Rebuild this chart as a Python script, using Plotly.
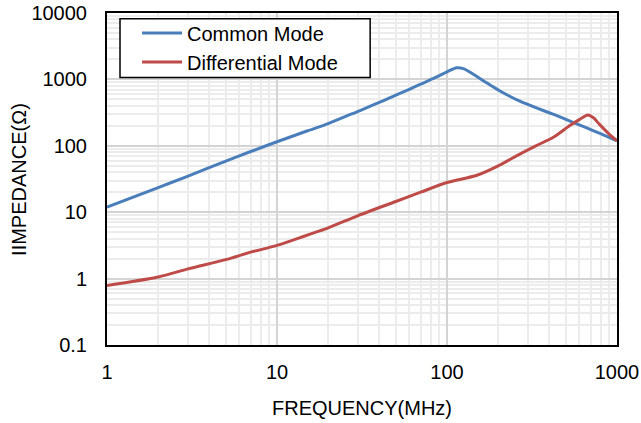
import plotly.graph_objects as go

# Data
freq_cm = [1, 2, 3, 5, 7, 10, 15, 20, 30, 40, 50, 60, 70, 85, 100, 114, 125, 136, 171, 205, 268, 352, 420, 500, 658, 800, 1000]
z_cm = [11.9, 23.5, 35, 59, 82, 115, 167, 216, 331, 450, 580, 710, 850, 1060, 1300, 1500, 1450, 1290, 890, 670, 470, 355, 300, 250, 188, 152, 119]

freq_dm = [1, 2, 3, 5, 7, 10, 15, 20, 30, 50, 70, 100, 150, 200, 268, 333, 420, 525, 600, 673, 730, 789, 902, 1000]
z_dm = [0.79, 1.06, 1.4, 1.93, 2.5, 3.16, 4.5, 5.8, 8.9, 14.5, 20, 28, 36, 50, 75, 100, 133, 200, 248, 292, 262, 210, 149, 119]

x_ticks = [1, 10, 100, 1000]
x_ticktext = ["1", "10", "100", "1000"]
y_ticks = [0.1, 1, 10, 100, 1000, 10000]
y_ticktext = ["0.1", "1", "10", "100", "1000", "10000"]

FONT = "Liberation Sans, Arial, sans-serif"
FS = 20

fig = go.Figure()
fig.add_trace(go.Scatter(x=freq_cm, y=z_cm, mode="lines", name="Common Mode",
                         line=dict(color="#4a7ebb", width=3, shape="spline", smoothing=0.8)))
fig.add_trace(go.Scatter(x=freq_dm, y=z_dm, mode="lines", name="Differential Mode",
                         line=dict(color="#be4b48", width=3, shape="spline", smoothing=0.8)))

axis_common = dict(
    showline=True, linecolor="black", linewidth=2, mirror=True,
    showgrid=True, gridcolor="#d4d4d4", gridwidth=1.5,
    zeroline=False, automargin=False,
    ticks="outside", tickcolor="rgba(0,0,0,0)",
    tickfont=dict(family=FONT, size=FS, color="#000000"),
    minor=dict(dtick="D1", showgrid=True, gridcolor="#ececec", gridwidth=2, ticks=""),
)

fig.update_xaxes(type="log", range=[0, 3], tickvals=x_ticks, ticktext=x_ticktext, ticklen=8,
                 title=dict(text="FREQUENCY(MHz)", font=dict(family=FONT, size=FS, color="#000000"), standoff=19),
                 **axis_common)
fig.update_yaxes(type="log", range=[-1, 4], tickvals=y_ticks, ticktext=y_ticktext, ticklen=14,
                 **axis_common)

# y-axis title as a rotated annotation (placed like the reference)
fig.add_annotation(text="IIMPEDANCE(Ω)", xref="paper", yref="paper", x=-0.1727, y=0.5,
                   xanchor="center", yanchor="middle", textangle=-90, showarrow=False,
                   font=dict(family=FONT, size=FS, color="#000000"))

# legend frame drawn as a shape; the legend itself sits on top without border
fig.add_shape(type="rect", xref="paper", yref="paper", x0=0.0255, x1=0.516, y0=0.806, y1=0.9826,
              line=dict(color="black", width=1.5), fillcolor="white", layer="above")

fig.update_layout(
    width=641, height=423,
    margin=dict(l=107, r=24, t=13, b=78),
    paper_bgcolor="white", plot_bgcolor="white",
    font=dict(family=FONT, size=FS, color="#000000"),
    showlegend=True,
    legend=dict(x=0.0589, y=0.9985, xanchor="left", yanchor="top",
                bgcolor="rgba(0,0,0,0)", borderwidth=0,
                font=dict(family=FONT, size=FS, color="#000000"),
                itemwidth=40, tracegroupgap=0),
)

fig.write_html("out.html", config={"displayModeBar": False},
               post_script="document.body.style.margin='0px';document.body.style.overflow='hidden';")
